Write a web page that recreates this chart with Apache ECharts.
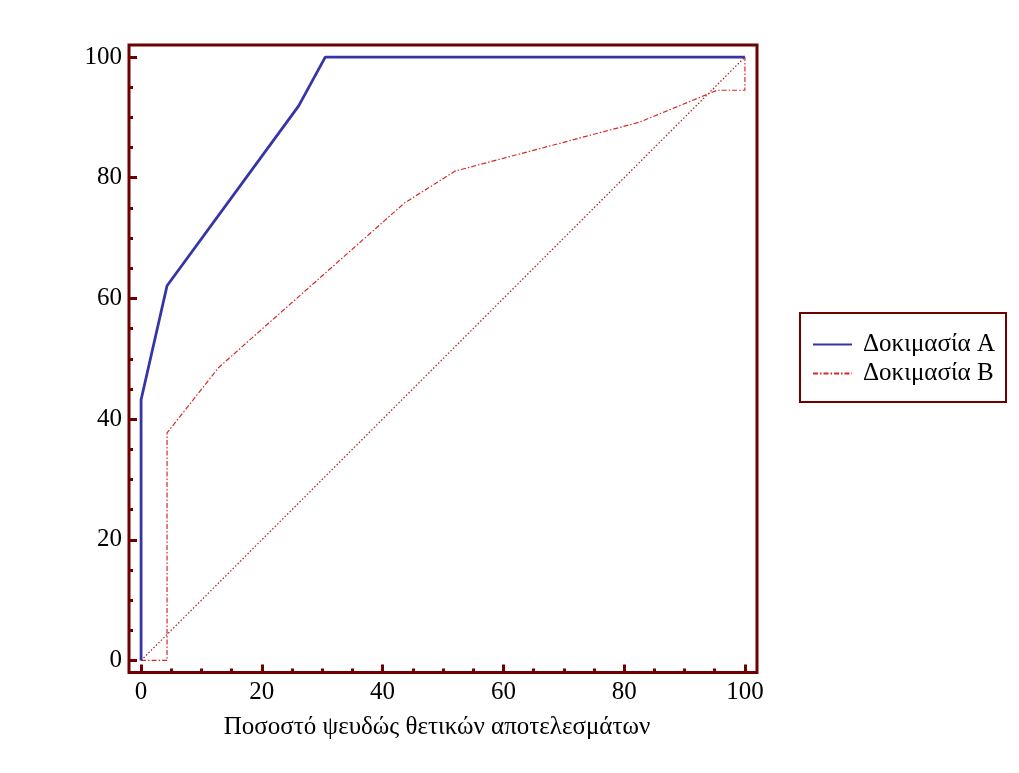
<!DOCTYPE html>
<html>
<head>
<meta charset="utf-8">
<script src="https://cdn.jsdelivr.net/npm/echarts@6/dist/echarts.min.js"></script>
<style>
html,body{margin:0;padding:0;background:#fff;}
#chart{width:1019px;height:773px;}
</style>
</head>
<body>
<div id="chart"></div>
<script>
// ---- data ----
var seriesNames = ['Δοκιμασία A', 'Δοκιμασία B'];
var testA = [[0,0],[0,43.2],[4.3,62.1],[26.1,91.9],[30.5,100],[100,100]];
var testB = [[0,0],[4.3,0],[4.3,37.7],[12.9,48.6],[43.6,75.8],[52.0,81.1],[82.5,89.2],[95.4,94.5],[100,94.5],[100,100]];
var diagonal = [[0,0],[100,100]];
var majorTicks = [0,20,40,60,80,100];
var minorTicks = [5,10,15,25,30,35,45,50,55,65,70,75,85,90,95];
var xAxisTitle = 'Ποσοστό ψευδώς θετικών αποτελεσμάτων';

var frame = '#6e0000';
var serif = '"Liberation Serif", "DejaVu Serif", serif';

function majorAxis(dim) {
  return {
    type: 'value', min: -2, max: 102,
    position: dim === 'x' ? 'bottom' : 'left',
    splitLine: {show: false},
    axisLine: {show: false, onZero: false},
    axisTick: {show: true, inside: true, length: 8, customValues: majorTicks,
      lineStyle: {color: frame, width: 3}},
    axisLabel: {show: true, customValues: majorTicks, color: '#000',
      fontFamily: serif, fontSize: 25, margin: 7}
  };
}
function minorAxis(dim) {
  return {
    type: 'value', min: -2, max: 102,
    position: dim === 'x' ? 'bottom' : 'left',
    splitLine: {show: false},
    axisLine: {show: false, onZero: false},
    axisTick: {show: true, inside: true, length: 4, customValues: minorTicks,
      lineStyle: {color: frame, width: 3}},
    axisLabel: {show: false}
  };
}

var xMajor = majorAxis('x');
xMajor.name = xAxisTitle;
xMajor.nameLocation = 'middle';
xMajor.nameGap = 42;
xMajor.nameTextStyle = {fontFamily: serif, fontSize: 25, color: '#000', padding: [0, 12, 0, 0]};

var chart = echarts.init(document.getElementById('chart'));
chart.setOption({
  animation: false,
  backgroundColor: '#fff',
  grid: {left: 129, top: 45, width: 628, height: 627.5, show: true,
    borderColor: frame, borderWidth: 3, backgroundColor: 'transparent'},
  xAxis: [xMajor, minorAxis('x')],
  yAxis: [majorAxis('y'), minorAxis('y')],
  legend: {
    data: seriesNames,
    orient: 'vertical', left: 800, top: 313,
    borderColor: frame, borderWidth: 2,
    padding: [19, 11, 16, 12],
    itemWidth: 39, itemHeight: 14, itemGap: 4, itemTextGap: 11,
    itemStyle: {color: 'transparent', borderColor: 'transparent', opacity: 0},
    textStyle: {fontFamily: serif, fontSize: 25, color: '#000', lineHeight: 25, padding: [0, 0, 0, 6]}
  },
  series: [
    {name: seriesNames[0], type: 'line', data: testA, symbol: 'none',
      lineStyle: {color: '#3535a8', width: 2.8}, itemStyle: {color: '#3535a8'}, z: 4},
    {name: seriesNames[1], type: 'line', data: testB, symbol: 'none',
      lineStyle: {color: '#d42a2a', width: 1.2, type: [5, 2, 1.5, 2]}, itemStyle: {color: '#d42a2a'}, z: 3},
    {name: 'diag', type: 'line', data: diagonal, symbol: 'none',
      lineStyle: {color: '#a82020', width: 1.2, type: [1.5, 2]}, z: 2}
  ]
});
</script>
</body>
</html>
